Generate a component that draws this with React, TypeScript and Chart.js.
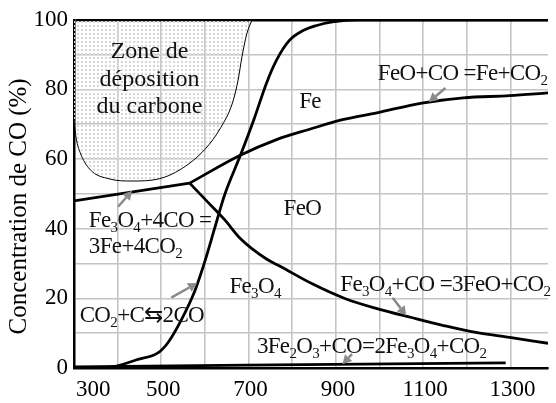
import React, { useEffect, useRef } from 'react';
import { Chart, registerables } from 'chart.js';

Chart.register(...registerables);

// ---- axes ----
const X_MIN = 300;
const X_MAX = 1386;
const xGridValues = [300, 400, 500, 600, 700, 800, 900, 1000, 1100, 1200, 1300];
const xTickLabels = [300, 500, 700, 900, 1100, 1300];
const yTickLabels = [0, 20, 40, 60, 80, 100];

// ---- curves (temperature °C, CO %) ----
const boudouardT = [300, 336, 388, 442, 494, 516, 545, 577, 600, 622, 645, 681, 712, 741, 764, 793, 825, 854, 892, 951, 989, 1386];
const boudouardCO = [0, 0, 0.3, 2.3, 4.5, 7.4, 13.6, 22.2, 30.7, 40, 49.7, 61, 71.3, 81.8, 88.4, 94, 96.9, 98.3, 99.4, 100, 100, 100];

const fe3o4FeT = [300, 565];
const fe3o4FeCO = [48, 53.1];

const feoFeT = [565, 681, 764, 838, 915, 994, 1097, 1192, 1298, 1386];
const feoFeCO = [53.1, 61.1, 65.6, 68.5, 71.3, 73.3, 76.1, 77.6, 78.2, 79.0];

const fe3o4FeoT = [565, 606, 645, 681, 741, 771, 847, 922, 996, 1073, 1147, 1221, 1298, 1386];
const fe3o4FeoCO = [53.1, 47.7, 42.6, 37.2, 31.3, 29.3, 24.1, 19.9, 17.0, 14.5, 12.2, 10.2, 8.8, 7.1];

const fe2o3T = [300, 696, 1289];
const fe2o3CO = [0.3, 0.85, 1.5];

const zoneT = [300, 305, 314, 336, 381, 433, 494, 545, 600, 636, 663, 676, 685, 696, 708];
const zoneCO = [71.3, 66, 61.9, 57.1, 54.3, 53.7, 54.3, 57.1, 62.8, 69.0, 76.1, 82.7, 89.5, 96.0, 100];

// ---- annotations (in data units) ----
const labelTexts = [
  'Zone de', 'déposition', 'du carbone', 'Fe', 'FeO', 'Fe_3O_4',
  'FeO+CO =Fe+CO_2', 'Fe_3O_4+4CO =', '3Fe+4CO_2', 'CO_2+C⇆2CO',
  'Fe_3O_4+CO =3FeO+CO_2', '3Fe_2O_3+CO=2Fe_3O_4+CO_2',
];
const labelT = [473, 473, 473, 816, 780, 656, 996, 334, 334, 313, 910, 719];
const labelCO = [88.9, 81.0, 73.3, 74.7, 44.0, 21.6, 82.7, 40.6, 33.0, 13.1, 22.2, 4.3];
const labelCentered = [true, true, true, false, false, false, false, false, false, false, false, false];

const arrowFromT = [1151, 401, 523, 1030, 937];
const arrowFromCO = [80.4, 46.3, 20.2, 20.2, 4.0];
const arrowToT = [1113, 433, 582, 1061, 915];
const arrowToCO = [76.4, 50.9, 24.4, 15.1, 1.1];

const FONT = '"Liberation Serif", "Times New Roman", serif';

const pts = (xs: number[], ys: number[]) => xs.map((x, i) => ({ x, y: ys[i] }));

function drawRich(ctx: CanvasRenderingContext2D, text: string, x: number, y: number, centered: boolean) {
  const segs: { t: string; sub: boolean }[] = [];
  for (let i = 0; i < text.length; i++) {
    if (text[i] === '_') {
      segs.push({ t: text[i + 1], sub: true });
      i++;
    } else {
      const last = segs[segs.length - 1];
      if (last && !last.sub) last.t += text[i];
      else segs.push({ t: text[i], sub: false });
    }
  }
  const main = centered ? `24px ${FONT}` : `23px ${FONT}`;
  const sub = `15px ${FONT}`;
  try { (ctx as any).letterSpacing = centered ? '0px' : '-0.65px'; } catch (e) { /* ignore */ }
  let w = 0;
  for (const s of segs) {
    ctx.font = s.sub ? sub : main;
    w += ctx.measureText(s.t).width;
  }
  let cx = centered ? x - w / 2 : x;
  ctx.textAlign = 'left';
  ctx.textBaseline = 'alphabetic';
  for (const s of segs) {
    ctx.font = s.sub ? sub : main;
    ctx.fillText(s.t, cx, s.sub ? y + 5 : y);
    cx += ctx.measureText(s.t).width;
  }
}

const annotationPlugin = {
  id: 'annotations',
  afterDatasetsDraw(chart: any) {
    const { ctx, scales } = chart;
    const xs = scales.x;
    const ys = scales.y;
    ctx.save();
    // arrows
    ctx.strokeStyle = '#8a8a8a';
    ctx.fillStyle = '#8a8a8a';
    ctx.lineWidth = 2.5;
    for (let i = 0; i < arrowFromT.length; i++) {
      const x1 = xs.getPixelForValue(arrowFromT[i]);
      const y1 = ys.getPixelForValue(arrowFromCO[i]);
      const x2 = xs.getPixelForValue(arrowToT[i]);
      const y2 = ys.getPixelForValue(arrowToCO[i]);
      const a = Math.atan2(y2 - y1, x2 - x1);
      const hl = 9;
      const hw = 5;
      const bx = x2 - hl * Math.cos(a);
      const by = y2 - hl * Math.sin(a);
      ctx.beginPath();
      ctx.moveTo(x1, y1);
      ctx.lineTo(bx, by);
      ctx.stroke();
      ctx.beginPath();
      ctx.moveTo(x2, y2);
      ctx.lineTo(bx + hw * Math.sin(a), by - hw * Math.cos(a));
      ctx.lineTo(bx - hw * Math.sin(a), by + hw * Math.cos(a));
      ctx.closePath();
      ctx.fill();
    }
    // labels
    ctx.fillStyle = '#111';
    for (let i = 0; i < labelTexts.length; i++) {
      drawRich(ctx, labelTexts[i], xs.getPixelForValue(labelT[i]), ys.getPixelForValue(labelCO[i]), labelCentered[i]);
    }
    ctx.restore();
  },
};

export default function App() {
  const ref = useRef<HTMLCanvasElement | null>(null);
  useEffect(() => {
    const canvas = ref.current;
    if (!canvas) return;
    const c2d = canvas.getContext('2d')!;
    const pc = document.createElement('canvas');
    pc.width = 4;
    pc.height = 4;
    const pctx = pc.getContext('2d')!;
    pctx.fillStyle = '#d8d8d8';
    pctx.fillRect(1, 1, 2, 2);
    const pattern = c2d.createPattern(pc, 'repeat');

    const line = (xs: number[], ys: number[], smooth: boolean, width = 2.8) => ({
      data: pts(xs, ys),
      borderColor: '#000',
      borderWidth: width,
      pointRadius: 0,
      fill: false,
      tension: smooth ? 0.4 : 0,
      cubicInterpolationMode: smooth ? 'monotone' : 'default',
    });

    const chart = new Chart(canvas, {
      type: 'line',
      data: {
        datasets: [
          line(boudouardT, boudouardCO, true),
          line(fe3o4FeT, fe3o4FeCO, false),
          line(feoFeT, feoFeCO, true),
          line(fe3o4FeoT, fe3o4FeoCO, true),
          line(fe2o3T, fe2o3CO, false),
          {
            ...line(zoneT, zoneCO, true, 1),
            fill: 'end',
            backgroundColor: pattern as any,
          },
        ] as any,
      },
      options: {
        animation: false,
        responsive: true,
        maintainAspectRatio: false,
        devicePixelRatio: 1,
        layout: { padding: { top: 16, left: 0, right: 0, bottom: 0 } },
        plugins: { legend: { display: false }, tooltip: { enabled: false } },
        scales: {
          x: {
            type: 'linear',
            min: X_MIN,
            max: X_MAX,
            afterBuildTicks: (s: any) => {
              s.ticks = [...xGridValues, X_MAX].map((v) => ({ value: v }));
            },
            afterFit: (s: any) => {
              s.height = 35;
            },
            grid: {
              drawTicks: false,
              color: (c: any) => (c.tick && c.tick.value === X_MAX ? 'rgba(0,0,0,0)' : '#c4c4c4'),
              lineWidth: 1.6,
            },
            border: { color: '#000', width: 2.5 },
            ticks: {
              autoSkip: false,
              maxRotation: 0,
              align: 'inner',
              padding: 8,
              labelOffset: 2,
              color: '#000',
              font: { family: FONT, size: 23 },
              callback: (v: any) => (xTickLabels.includes(Number(v)) ? String(v) : ''),
            },
          },
          y: {
            type: 'linear',
            min: 0,
            max: 100,
            afterFit: (s: any) => {
              s.width = 74;
            },
            grid: {
              drawTicks: false,
              color: (c: any) => (c.tick && c.tick.value === 100 ? '#000' : '#c4c4c4'),
              lineWidth: (c: any) => (c.tick && c.tick.value === 100 ? 2.5 : 1.6),
            },
            border: { color: '#000', width: 2.5 },
            title: {
              display: true,
              text: 'Concentration de CO (%)    ',
              color: '#000',
              font: { family: FONT, size: 25, weight: 'normal' },
              padding: { top: 4, bottom: 0 },
            },
            ticks: {
              stepSize: 10,
              autoSkip: false,
              padding: 6,
              color: '#000',
              font: { family: FONT, size: 23 },
              callback: (v: any) => (yTickLabels.includes(Number(v)) ? String(v) : ''),
            },
          },
        },
      } as any,
      plugins: [annotationPlugin],
    });
    return () => chart.destroy();
  }, []);

  return (
    <div style={{ position: 'fixed', left: 0, top: 0, width: 556, height: 403, background: '#fff' }}>
      <canvas ref={ref} />
    </div>
  );
}
